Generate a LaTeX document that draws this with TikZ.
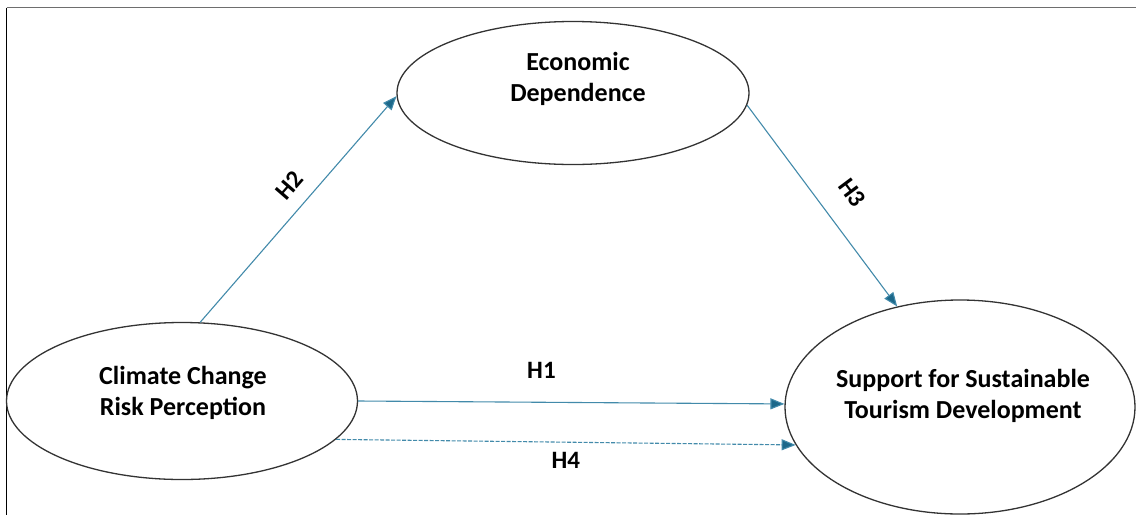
\documentclass[tikz,border=0pt]{standalone}
\usepackage{fontspec}
\setmainfont{Carlito}
\usepackage{tikz}
\usetikzlibrary{shapes.geometric,arrows.meta}

\definecolor{pathline}{RGB}{66,138,170}
\definecolor{pathtip}{RGB}{28,104,138}
\definecolor{framegray}{RGB}{110,110,110}

\tikzset{
  construct/.style={ellipse,draw=black!80,line width=1.3pt,inner sep=0pt},
  conname/.style={align=center,font=\fontsize{26}{31}\selectfont\bfseries},
  path/.style={draw=pathline,line width=1.1pt,-{Triangle[length=14pt,width=11pt,fill=pathtip]}},
  hyp/.style={font=\fontsize{25}{30}\selectfont\bfseries}
}

\begin{document}
\begin{tikzpicture}[x=1pt,y=-1pt]
  \useasboundingbox (0,0) rectangle (1136,515);
  % frame
  \draw[framegray,line width=1.6pt] (6.5,7.5) -- (1136,7.5);
  \draw[black,line width=1.1pt] (6.5,7.5) -- (6.5,515);

  % constructs
  \node[construct,minimum width=352pt,minimum height=143pt] (econ) at (573,93) {};
  \node[construct,minimum width=351pt,minimum height=157pt] (ccrp) at (182,401) {};
  \node[construct,minimum width=350pt,minimum height=214pt] (stdev) at (960,407) {};
  \node[conname] (econtxt) at (578,79) {Economic\\Dependence};
  \node[conname] (ccrptxt) at (183,393) {Climate Change\\Risk Perception};
  \node[conname] (stdevtxt) at (963,396) {Support for Sustainable\\Tourism Development};

  % hypotheses
  \draw[path] (ccrp.77.7) -- node[hyp,sloped,above=10pt,pos=0.54] {H2} (econ.181.7);
  \draw[path] (econ.-4) -- node[hyp,sloped,above=20pt,pos=0.53] {H3} (stdev.122);
  \draw[path] (ccrp.0) -- node[hyp,above=20pt,pos=0.43] {H1} (stdev.179.3);
  \draw[path,dashed,dash pattern=on 4pt off 1.5pt] (ccrp.-14.8) -- node[hyp,below=6pt,pos=0.5] {H4} (stdev.193);
\end{tikzpicture}
\end{document}
